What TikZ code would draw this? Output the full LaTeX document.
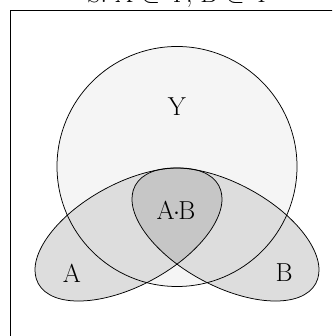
\documentclass[tikz,border=0pt]{standalone}
\usepackage{tikz}
\usetikzlibrary{positioning}

\tikzset{
  setline/.style={draw=black, line width=0.75pt},
  setlabel/.style={font=\fontsize{26}{30}\selectfont, inner sep=0pt},
}

\begin{document}
\begin{tikzpicture}[x=1pt,y=1pt]
  \clip (0,0) rectangle (332,336);
  % frame and caption (cut off at the top)
  \draw[line width=0.8pt] (10,-20) rectangle (360,326);
  \node[setlabel, anchor=base] (title) at (179,333) {S: A $\subset$ Y, B $\subset$ Y};

  \coordinate (cy) at (177,169.5);
  \coordinate (ca) at (128.5,101.5);
  \coordinate (cb) at (225.5,101.5);

  % fills
  \fill[gray!8] (cy) circle[radius=120pt];
  \fill[gray!27, rotate around={28.5:(ca)}] (ca) ellipse[x radius=102.7pt, y radius=51.2pt];
  \fill[gray!27, rotate around={-28.5:(cb)}] (cb) ellipse[x radius=102.7pt, y radius=51.2pt];
  \begin{scope}
    \clip[rotate around={28.5:(ca)}] (ca) ellipse[x radius=102.7pt, y radius=51.2pt];
    \fill[gray!45, rotate around={-28.5:(cb)}] (cb) ellipse[x radius=102.7pt, y radius=51.2pt];
  \end{scope}

  % outlines
  \draw[setline] (cy) circle[radius=120pt];
  \draw[setline, rotate around={28.5:(ca)}] (ca) ellipse[x radius=102.7pt, y radius=51.2pt];
  \draw[setline, rotate around={-28.5:(cb)}] (cb) ellipse[x radius=102.7pt, y radius=51.2pt];

  % labels
  \node[setlabel] (ylabel) at (177,229) {Y};
  \node[setlabel] (ablabel) at (176,126) {A\kern-1.5pt{$\cdot$}\kern-1.5pt B};
  \node[setlabel] (alabel) at (72,63) {A};
  \node[setlabel] (blabel) at (284,63) {B};
\end{tikzpicture}
\end{document}
